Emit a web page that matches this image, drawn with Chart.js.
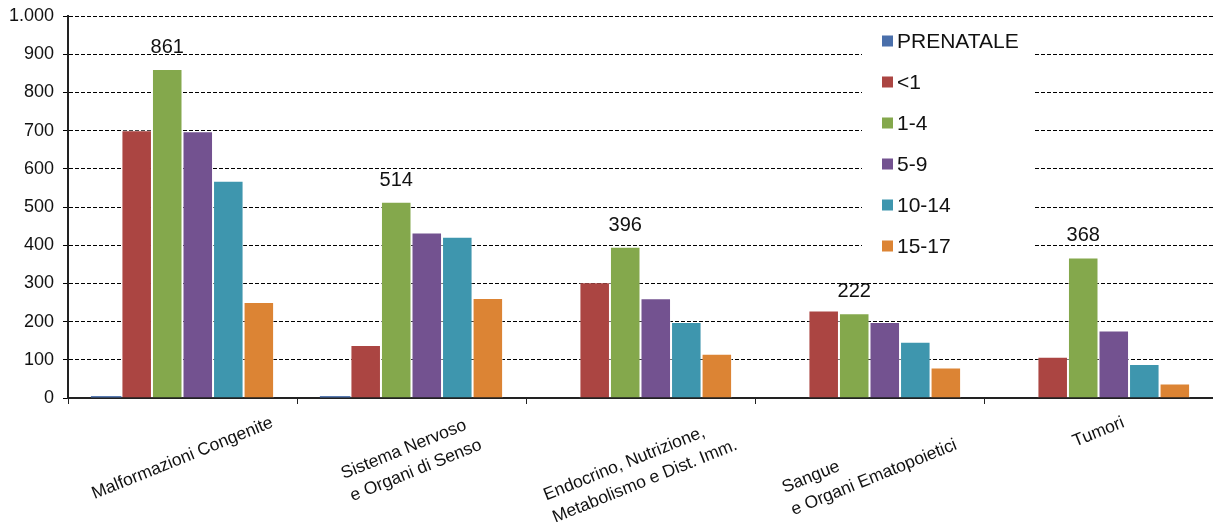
<!DOCTYPE html>
<html>
<head>
<meta charset="utf-8">
<title>Ricoveri per gruppo di patologia ed età</title>
<script src="https://cdn.jsdelivr.net/npm/chart.js@4.4.1/dist/chart.umd.min.js"></script>
<style>
    html, body { margin: 0; padding: 0; background: #fff; }
    canvas { display: block; }
</style>
</head>
<body>
<canvas id="ageChart" width="1213" height="522"></canvas>
<script>
// Categories (multi-line labels) and age-group series
const categories = [
    ['Malformazioni Congenite'],
    ['Sistema Nervoso', 'e Organi di Senso'],
    ['Endocrino, Nutrizione,', 'Metabolismo e Dist. Imm.'],
    ['Sangue', 'e Organi Ematopoietici'],
    ['Tumori']
];
const seriesNames = ['PRENATALE', '<1', '1-4', '5-9', '10-14', '15-17'];
const seriesColors = ['#4a6fab', '#ab4542', '#84a84c', '#735290', '#3e96ae', '#dc8434'];

const prenatale = [5, 5, 0, 0, 0];
const under1 = [701, 139, 303, 229, 108];
const age1to4 = [861, 514, 396, 222, 368];
const age5to9 = [698, 433, 261, 199, 177];
const age10to14 = [569, 422, 199, 147, 89];
const age15to17 = [251, 262, 116, 80, 38];

const yMax = 1000;
const yStep = 100;

const seriesData = [prenatale, under1, age1to4, age5to9, age10to14, age15to17];
const LABELLED_SERIES = 2; // the 1-4 bars carry their value on top

const FONT = '"Liberation Sans", Arial, sans-serif';

// 1000 -> "1.000"
function formatThousands(v) {
    return String(v).replace(/\B(?=(\d{3})+(?!\d))/g, '.');
}

// Rotated category labels under the x axis
const rotatedLabels = {
    id: 'rotatedLabels',
    afterDraw(chart) {
        const ctx = chart.ctx;
        const xScale = chart.scales.x;
        const angle = 22 * Math.PI / 180;
        const lineH = 24;
        ctx.save();
        ctx.font = '17.5px ' + FONT;
        ctx.fillStyle = '#111';
        ctx.textBaseline = 'middle';
        ctx.textAlign = 'left';
        categories.forEach(function(lines, i) {
            const w = Math.max.apply(null, lines.map(function(l) { return ctx.measureText(l).width; }));
            const h = lines.length * lineH;
            const bh = w * Math.sin(angle) + h * Math.cos(angle);
            const cx = xScale.getPixelForValue(i);
            const cy = xScale.top + 13 + bh / 2;
            ctx.save();
            ctx.translate(cx, cy);
            ctx.rotate(-angle);
            lines.forEach(function(line, k) {
                ctx.fillText(line, -w / 2, -h / 2 + lineH * (k + 0.5));
            });
            ctx.restore();
        });
        ctx.restore();
    }
};

// Value on top of the labelled series
const valueLabels = {
    id: 'valueLabels',
    afterDatasetsDraw(chart) {
        const ctx = chart.ctx;
        const meta = chart.getDatasetMeta(LABELLED_SERIES);
        ctx.save();
        ctx.font = '20px ' + FONT;
        ctx.fillStyle = '#111';
        ctx.textAlign = 'center';
        ctx.textBaseline = 'alphabetic';
        meta.data.forEach(function(bar, i) {
            ctx.fillText(String(seriesData[LABELLED_SERIES][i]), bar.x, bar.y - 16);
        });
        ctx.restore();
    }
};

// Legend box sitting inside the plot, over the grid lines
const boxLegend = {
    id: 'boxLegend',
    afterDraw(chart) {
        const ctx = chart.ctx;
        ctx.save();
        ctx.fillStyle = '#fff';
        ctx.fillRect(862, 24, 173, 242);
        ctx.font = '21px ' + FONT;
        ctx.textBaseline = 'middle';
        ctx.textAlign = 'left';
        seriesNames.forEach(function(name, i) {
            const y = 41 + i * 41;
            ctx.fillStyle = seriesColors[i];
            ctx.fillRect(882, y - 5.5, 11, 11);
            ctx.fillStyle = '#111';
            ctx.fillText(name, 897, y + 1);
        });
        ctx.restore();
    }
};

const ctx = document.getElementById('ageChart').getContext('2d');
new Chart(ctx, {
    type: 'bar',
    data: {
        labels: categories,
        datasets: seriesNames.map(function(name, i) {
            return {
                label: name,
                data: seriesData[i],
                backgroundColor: seriesColors[i],
                borderColor: 'rgba(255,255,255,0.5)',
                borderWidth: i === 0 ? 0 : 1,
                categoryPercentage: 0.8,
                barPercentage: 1.0
            };
        })
    },
    options: {
        responsive: false,
        animation: false,
        devicePixelRatio: 1,
        layout: { padding: { top: 16, right: 0, bottom: 0, left: 0 } },
        plugins: {
            legend: { display: false },
            tooltip: { enabled: false }
        },
        scales: {
            x: {
                offset: true,
                grid: {
                    display: true,
                    drawOnChartArea: false,
                    drawTicks: true,
                    tickLength: 6,
                    offset: true,
                    color: '#222',
                    lineWidth: 1
                },
                border: { display: true, color: '#222', width: 2 },
                ticks: { display: false },
                afterFit: function(scale) { scale.height = 124; }
            },
            y: {
                min: 0,
                max: yMax,
                grid: {
                    color: '#000',
                    lineWidth: 1,
                    tickLength: 5,
                    tickColor: '#000'
                },
                border: { display: true, color: '#222', width: 2, dash: [4, 2] },
                ticks: {
                    stepSize: yStep,
                    padding: 9,
                    color: '#111',
                    font: { family: FONT, size: 18 },
                    callback: function(v) { return formatThousands(v); }
                },
                afterFit: function(scale) {
                    scale.width = 68;
                    scale.paddingTop = 0;
                    scale.paddingBottom = 0;
                }
            }
        }
    },
    plugins: [valueLabels, rotatedLabels, boxLegend]
});
</script>
</body>
</html>
